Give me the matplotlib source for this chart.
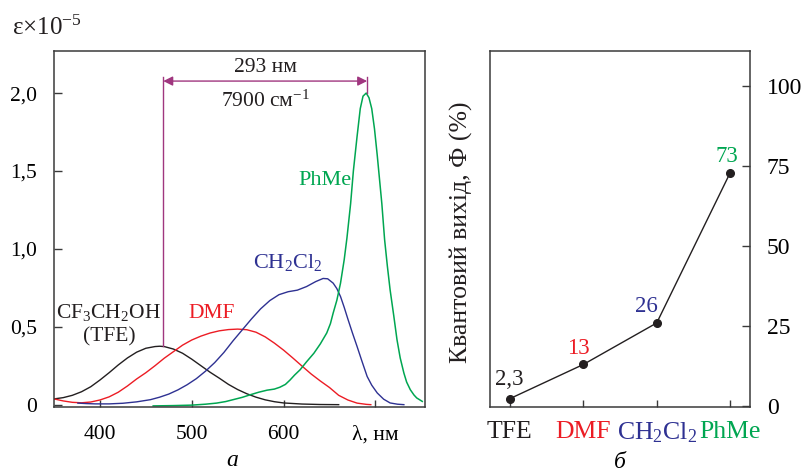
import matplotlib
matplotlib.use("Agg")
import matplotlib.pyplot as plt

plt.rcParams['font.family'] = ['Liberation Serif', 'DejaVu Serif']
plt.rcParams['mathtext.fontset'] = 'custom'
plt.rcParams['mathtext.rm'] = 'Liberation Serif'
plt.rcParams['mathtext.it'] = 'Liberation Serif:italic'
plt.rcParams['font.size'] = 15.5

# --- absorption spectra (a) ---
lam_tfe = [350, 360, 370, 380, 390, 400, 410, 420, 430, 440, 450, 460, 465, 470, 480,
           490, 500, 510, 520, 530, 540, 550, 560, 570, 580, 590, 600, 620, 640, 660]
eps_tfe = [0.037, 0.045, 0.06, 0.083, 0.115, 0.158, 0.205, 0.255, 0.30, 0.337, 0.362, 0.373,
           0.375, 0.373, 0.357, 0.33, 0.292, 0.25, 0.208, 0.17, 0.13, 0.097, 0.07, 0.048,
           0.031, 0.019, 0.011, 0.004, 0.001, 0.0]

lam_dmf = [350, 360, 370, 380, 390, 400, 410, 420, 430, 440, 450, 460, 470, 480, 490, 500,
           510, 520, 530, 540, 550, 560, 570, 580, 590, 600, 610, 620, 630, 640, 650, 660,
           670, 680, 690, 695]
eps_dmf = [0.037, 0.024, 0.015, 0.012, 0.017, 0.03, 0.05, 0.08, 0.12, 0.165, 0.205, 0.25,
           0.298, 0.34, 0.382, 0.415, 0.44, 0.46, 0.474, 0.482, 0.485, 0.481, 0.465, 0.435,
           0.395, 0.35, 0.30, 0.248, 0.197, 0.152, 0.11, 0.06, 0.03, 0.01, 0.002, 0.0]

lam_dcm = [376, 385, 395, 410, 425, 440, 455, 465, 475, 485, 495, 505, 515, 525, 535, 545,
           555, 565, 575, 585, 595, 605, 615, 625, 635, 643, 648, 654, 658, 662, 666, 670,
           675, 680, 685, 691, 696, 702, 709, 716, 724, 731]
eps_dcm = [0.01, 0.007, 0.005, 0.005, 0.009, 0.018, 0.032, 0.048, 0.068, 0.095, 0.128, 0.167,
           0.215, 0.27, 0.335, 0.41, 0.48, 0.55, 0.615, 0.668, 0.706, 0.725, 0.735, 0.758,
           0.79, 0.81, 0.808, 0.78, 0.745, 0.694, 0.625, 0.55, 0.46, 0.374, 0.285, 0.181,
           0.125, 0.075, 0.035, 0.011, 0.003, 0.0]

lam_phme = [458, 480, 500, 515, 527, 537, 545, 555, 564, 573, 582, 590, 596, 602, 607, 612,
            618, 625, 633, 640, 647, 651, 654, 658, 662, 666, 669, 673, 676, 680, 683.5,
            686.5, 690, 693, 696, 699, 702, 707, 710, 713, 716, 720, 723.5, 727, 731, 734,
            738, 742, 745, 751]
eps_phme = [-0.008, -0.006, -0.003, 0.003, 0.01, 0.02, 0.032, 0.047, 0.064, 0.08, 0.093, 0.10,
            0.112, 0.13, 0.158, 0.19, 0.224, 0.275, 0.33, 0.39, 0.46, 0.52, 0.588, 0.67,
            0.78, 0.93, 1.07, 1.29, 1.50, 1.72, 1.90, 1.98, 2.0, 1.97, 1.90, 1.77, 1.60,
            1.29, 1.06, 0.89, 0.737, 0.57, 0.417, 0.30, 0.203, 0.145, 0.096, 0.062, 0.043,
            0.021]

stokes_from = 469   # max absorption TFE
stokes_to = 691     # max PhMe

# --- quantum yield (б) ---
solvents = ['TFE', 'DMF', 'CH$_2$Cl$_2$', 'PhMe']
qy = [2.3, 13, 26, 73]
qy_labels = ['2,3', '13', '26', '73']

c_black = '#231f20'
c_red = '#ec1c24'
c_blue = '#2e3192'
c_green = '#00a651'
c_mag = '#a0367f'
colors = [c_black, c_red, c_blue, c_green]
spine_c = '#3a3a3a'

fig = plt.figure(figsize=(8.01, 4.74), dpi=100)
ax1 = fig.add_axes([54/801, 1-407/474, 371/801, 356/474])
ax2 = fig.add_axes([490/801, 1-407/474, 260/801, 356/474])

lw = 1.0
ax1.plot(lam_tfe, eps_tfe, color=c_black, lw=lw)
ax1.plot(lam_dmf, eps_dmf, color=c_red, lw=lw)
ax1.plot(lam_dcm, eps_dcm, color=c_blue, lw=lw)
ax1.plot(lam_phme, eps_phme, color=c_green, lw=1.1)
ax1.set_xlim(350, 754)
ax1.set_ylim(-0.015, 2.27)
ax1.set_xticks([400, 500, 600, 700])
ax1.set_xticklabels(['400', '500', '600', 'λ, нм'])
ax1.set_yticks([0, 0.5, 1.0, 1.5, 2.0])
ax1.set_yticklabels(['0', '0,5', '1,0', '1,5', '2,0'])
ax1.tick_params(axis='y', direction='in', length=6, width=1, pad=12, color=spine_c)
ax1.tick_params(axis='x', direction='in', length=5, width=1, pad=13, color=spine_c)

# Stokes shift annotation
peak_tfe = max(eps_tfe)
ax1.plot([stokes_from, stokes_from], [peak_tfe, 2.10], color=c_mag, lw=1.0)
ax1.plot([stokes_to, stokes_to], [max(eps_phme), 2.10], color=c_mag, lw=1.0)
ax1.annotate('', xy=(stokes_to, 2.077), xytext=(stokes_from, 2.077),
             arrowprops=dict(arrowstyle='<|-|>', color=c_mag, lw=1.0,
                             mutation_scale=14, shrinkA=0, shrinkB=0))
mid = (stokes_from + stokes_to) / 2
ax1.text(mid, 2.165, '293 нм', ha='center', va='center', color=c_black)
ax1.text(mid, 1.945, '7900 см$^{-1}$', ha='center', va='center', color=c_black)

ax1.text(409, 0.592, 'CF$_3$CH$_2$OH', ha='center', va='center', color=c_black)
ax1.text(410, 0.438, '(TFE)', ha='center', va='center', color=c_black)
ax1.text(522, 0.583, 'DMF', ha='center', va='center', color=c_red)
ax1.text(604, 0.91, 'CH$_2$Cl$_2$', ha='center', va='center', color=c_blue, fontsize=16)
ax1.text(645, 1.44, 'PhMe', ha='center', va='center', color=c_green, fontsize=16)

fig.text(12/801, 1-28/474, 'ε×10$^{-5}$', ha='left', va='center', color=c_black, fontsize=18)

# right panel
x = list(range(len(solvents)))
ax2.plot(x, qy, color=c_black, lw=1.0, marker='o', markersize=5.5)
ax2.set_xlim(-0.27, 3.27)
ax2.set_ylim(-0.3, 111.1)
ax2.set_xticks(x)
ax2.set_xticklabels(solvents, fontsize=18.5)
for lab, c in zip(ax2.get_xticklabels(), colors):
    lab.set_color(c)
ax2.yaxis.tick_right()
ax2.set_yticks([0, 25, 50, 75, 100])
ax2.tick_params(axis='y', direction='in', length=6, width=1, pad=12, color=spine_c,
                labelsize=17)
ax2.tick_params(axis='x', direction='in', length=5, width=1, pad=10, color=spine_c)

offsets = [(-0.7, 14), (-3.6, 11.5), (-7.2, 11.7), (-2.2, 11.5)]
for xi, v, t, c, off in zip(x, qy, qy_labels, colors, offsets):
    ax2.annotate(t, (xi, v), xytext=off, textcoords='offset points',
                 ha='center', va='center', color=c, fontsize=16.5)

ax2.text(-0.108, 0.49, 'Квантовий вихід, Ф (%)', rotation=90, transform=ax2.transAxes,
         ha='center', va='center', color=c_black, fontsize=18.5)

for ax in (ax1, ax2):
    for s in ax.spines.values():
        s.set_color(spine_c)
        s.set_linewidth(1.1)

fig.text(232/801, 1-461/474, 'а', ha='center', va='center', style='italic', fontsize=17)
fig.text(620/801, 1-463/474, 'б', ha='center', va='center', style='italic', fontsize=17)

fig.savefig('out.png', dpi=100)
